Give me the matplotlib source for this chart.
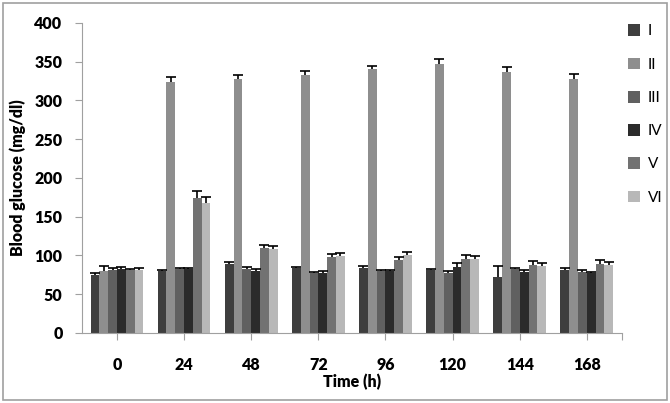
import numpy as np
import matplotlib.pyplot as plt
from matplotlib.patches import Rectangle

# time points (h) and groups
times = ["0", "24", "48", "72", "96", "120", "144", "168"]
groups = ["I", "II", "III", "IV", "V", "VI"]
colors = ["#3e3e3e", "#8e8e8e", "#606060", "#2b2b2b", "#727272", "#b8b8b8"]

# mean blood glucose (mg/dl) per group
g1 = [75, 80, 89, 84, 84, 81, 72, 81]
g2 = [80, 324, 328, 333, 340, 347, 337, 328]
g3 = [81, 82, 83, 78, 80, 78, 82, 79]
g4 = [83, 82, 80, 78, 80, 85, 79, 78]
g5 = [81, 174, 110, 98, 94, 95, 88, 89]
g6 = [81, 168, 109, 99, 100, 95, 86, 88]

# upper error (SEM)
e1 = [2, 1, 3, 1, 3, 1, 14, 3]
e2 = [7, 6, 5, 5, 5, 6, 6, 6]
e3 = [3, 2, 2, 1, 1, 2, 2, 2]
e4 = [2, 2, 3, 2, 1, 5, 2, 1]
e5 = [1, 9, 3, 4, 4, 6, 5, 5]
e6 = [3, 8, 3, 4, 4, 4, 4, 4]

means = [g1, g2, g3, g4, g5, g6]
errs = [e1, e2, e3, e4, e5, e6]

plt.rcParams["font.family"] = ["Lato", "DejaVu Sans"]

fig = plt.figure(figsize=(6.7, 4.03), dpi=100)
ax = fig.add_axes([0.1224, 0.1737, 0.8056, 0.7693])

x = np.arange(len(times))
width = 0.131
for i, (vals, err, col, name) in enumerate(zip(means, errs, colors, groups)):
    pos = x + (i - 2.5) * width
    ax.bar(pos, vals, width=width, color=col, label=name, zorder=2)
    eb = ax.errorbar(pos, vals, yerr=[np.zeros(len(err)), err], fmt="none",
                     ecolor="black", elinewidth=1.2, capsize=3.5, capthick=1.2, zorder=3)
    # plus-only error bars: hide the lower cap
    eb[1][0].set_visible(False)

ax.set_xlim(-0.52, 7.52)
ax.set_ylim(0, 400)
ax.set_yticks(np.arange(0, 401, 50))
ax.set_xticks(list(x) + [7.52])
ax.set_xticklabels(times + [""])
ax.tick_params(axis="x", length=5, pad=12, color="#a0a0a0")
ax.tick_params(axis="y", length=5, pad=9, color="#a0a0a0")
for lab in ax.get_xticklabels() + ax.get_yticklabels():
    lab.set_fontsize(11.5)
    lab.set_fontweight("heavy")

for s in ["top", "right"]:
    ax.spines[s].set_visible(False)
for s in ["left", "bottom"]:
    ax.spines[s].set_color("#a0a0a0")

ax.set_ylabel("Blood glucose (mg/dl)", fontsize=11.5, fontweight="heavy", labelpad=6)
ax.set_xlabel("Time (h)", fontsize=11.5, fontweight="heavy", labelpad=1)

leg = ax.legend(loc="upper left", bbox_to_anchor=(0.986, 1.04), frameon=False,
                fontsize=11, handlelength=0.8, handleheight=0.8,
                labelspacing=1.25, handletextpad=0.5)

# outer frame
fig.patches.append(Rectangle((0.005, 0.008), 0.99, 0.984, transform=fig.transFigure,
                             fill=False, edgecolor="#a0a0a0", linewidth=1.2))

fig.savefig("out.png", dpi=100)
